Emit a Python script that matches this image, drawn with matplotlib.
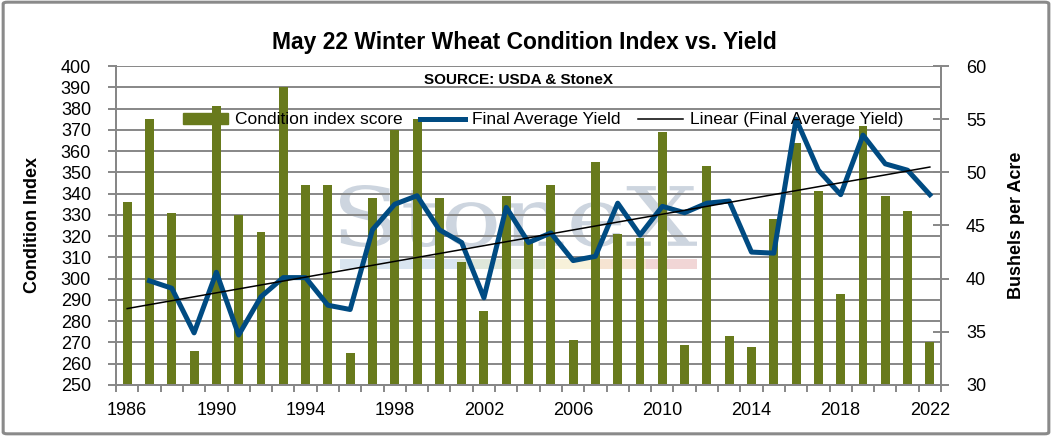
import matplotlib.pyplot as plt
import numpy as np
from matplotlib.patches import Rectangle, FancyBboxPatch, PathPatch
from matplotlib.lines import Line2D
from matplotlib.textpath import TextPath
from matplotlib.font_manager import FontProperties
from matplotlib.transforms import Affine2D

plt.rcParams["font.family"] = ["Liberation Sans", "DejaVu Sans"]

years = list(range(1986, 2023))
condition_index = [336, 375, 331, 266, 381, 330, 322, 390, 344, 344, 265, 338, 370, 375,
                   338, 308, 285, 339, 318, 344, 271, 355, 321, 319, 369, 269, 353, 273,
                   268, 328, 364, 341, 293, 372, 339, 332, 270]
# 1986 yield not plotted
final_yield = [np.nan, 39.8, 39.1, 34.9, 40.6, 34.7, 38.3, 40.1, 40.1, 37.5, 37.1, 44.6,
               47.0, 47.8, 44.6, 43.4, 38.2, 46.7, 43.4, 44.3, 41.7, 42.1, 47.1, 44.1,
               46.8, 46.2, 47.1, 47.3, 42.5, 42.4, 55.0, 50.2, 47.9, 53.5, 50.8, 50.2, 47.9]
year_labels = [str(y) for y in years[::4]]

BAR_COLOR = "#687A1C"
LINE_COLOR = "#004B82"
GRID = "#878787"

x = np.arange(len(years))
y_arr = np.array(final_yield, dtype=float)
ok = ~np.isnan(y_arr)
coef = np.polyfit(x[ok], y_arr[ok], 1)
trend = np.polyval(coef, x)

fig = plt.figure(figsize=(10.52, 4.36), dpi=100)
fig.patches.append(FancyBboxPatch((0.003, 0.005), 0.994, 0.99, boxstyle="round,pad=0,rounding_size=0.004",
                                  transform=fig.transFigure, fill=False, edgecolor="#8a8a8a", linewidth=2.2))

ax = fig.add_axes([0.1103, 0.117, 0.7842, 0.7316])
ax2 = ax.twinx()

# faint StoneX watermark, stretched into its box (pixel coords of the figure)
tp = TextPath((0, 0), "StoneX", size=100, prop=FontProperties(family="DejaVu Serif"))
bb = tp.get_extents()
wx0, wx1, wy0, wy1 = 340, 697, 436 - 247, 436 - 185
tr = (Affine2D().translate(-bb.x0, -bb.y0)
      .scale((wx1 - wx0) / bb.width, (wy1 - wy0) / bb.height)
      .translate(wx0, wy0))
ax.add_patch(PathPatch(tr.transform_path(tp), transform=None, facecolor="#cdd5df",
                       edgecolor="none", zorder=0))
stripe = [("#d9e5f0", 0.2715, 0.1415), ("#dfe7da", 0.4130, 0.1065), ("#f7f1da", 0.5195, 0.0665),
          ("#f6e4d2", 0.5860, 0.0570), ("#f1d6d6", 0.6430, 0.0615)]
for col, x0, w in stripe:
    ax.add_patch(Rectangle((x0, 0.364), w, 0.03, transform=ax.transAxes, facecolor=col,
                           edgecolor="none", zorder=0))

ax.set_axisbelow(True)
ax.grid(axis="y", color=GRID, linewidth=1.4, zorder=1)
ax.bar(x, condition_index, width=0.4, color=BAR_COLOR, zorder=2)
ax.set_ylim(250, 400)
ax.set_yticks(range(250, 401, 10))
ax.set_xlim(-0.5, len(years) - 0.5)
ax.set_xticks(x[::4])
ax.set_xticklabels(year_labels)
ax.set_xticks(np.arange(-0.5, len(years), 1), minor=True)
ax.tick_params(axis="x", which="major", length=0, pad=12, labelsize=13)
ax.tick_params(axis="x", which="minor", length=5, width=1.4, color=GRID)
ax.tick_params(axis="y", length=6, width=1.4, color=GRID, pad=12, labelsize=13)
ax.set_ylabel("Condition Index", fontsize=13, fontweight="bold", labelpad=14)

ax2.plot(x, final_yield, color=LINE_COLOR, linewidth=3.6, zorder=3)
ax2.plot(x, trend, color="black", linewidth=1.1, zorder=4)
ax2.set_ylim(30, 60)
ax2.set_yticks(range(30, 61, 5))
ax2.tick_params(axis="y", direction="inout", length=12, width=1.4, color=GRID, pad=12, labelsize=13)
ax2.set_ylabel("Bushels per Acre", fontsize=13, fontweight="bold", labelpad=16)

for a in (ax, ax2):
    a.spines["top"].set_visible(False)
    for side in ("left", "right", "bottom"):
        a.spines[side].set_color(GRID)
        a.spines[side].set_linewidth(1.4)

handles = [Rectangle((0, 0), 1, 1, color=BAR_COLOR),
           Line2D([], [], color=LINE_COLOR, linewidth=3.6),
           Line2D([], [], color="black", linewidth=1.1)]
labels = ["Condition index score", "Final Average Yield", "Linear (Final Average Yield)"]
leg = ax2.legend(handles, labels, loc="center", bbox_to_anchor=(0.516, 0.725),
                 bbox_transform=fig.transFigure, ncol=3, frameon=False, fontsize=12.5,
                 handlelength=2.6, handleheight=0.6, columnspacing=1.0, handletextpad=0.4)

fig.text(0.498, 0.903, "May 22 Winter Wheat Condition Index vs. Yield", ha="center", va="center",
         fontsize=16.5, fontweight="bold")
fig.text(0.493, 0.817, "SOURCE: USDA & StoneX", ha="center", va="center", fontsize=11,
         fontweight="bold")

fig.savefig("out.png", dpi=100)
